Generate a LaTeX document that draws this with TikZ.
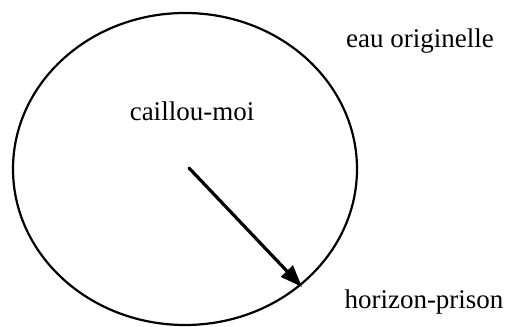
\documentclass[tikz,border=0pt]{standalone}
\usepackage{fontspec}
\setmainfont{Liberation Serif}
\usepackage{tikz}
\usetikzlibrary{arrows.meta}

\begin{document}
\begin{tikzpicture}[x=1pt,y=1pt]
			\useasboundingbox (0,0) rectangle (505,326);
			\tikzset{lbl/.style={font=\fontsize{27}{31}\selectfont}}
			\draw[line width=2.2pt] (185,157) ellipse (172 and 156);
			\coordinate (centre) at (189,158);
			\coordinate (bord) at (302,39);
			\draw[line width=3.2pt,line cap=round,-{Triangle[length=22pt,width=16pt]}] (centre) -- (bord);
			\node[lbl] (moi) at (192,215) {caillou-moi};
			\node[lbl] (eau) at (420,285) {eau originelle};
			\node[lbl] (horizon) at (424,24) {horizon-prison};
		\end{tikzpicture}
\end{document}
